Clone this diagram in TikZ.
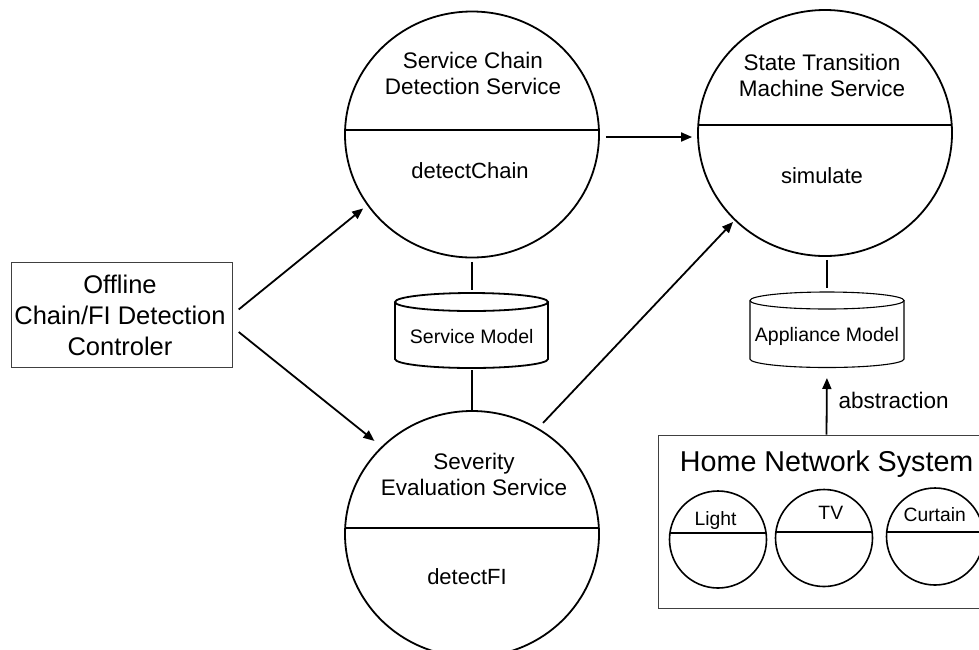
\documentclass[tikz,border=0pt]{standalone}
\usepackage{fontspec}
\setmainfont{Liberation Sans}
\usetikzlibrary{arrows.meta,shapes.geometric,calc}
\begin{document}
\begin{tikzpicture}[x=1pt,y=-1pt,
  svc/.style={ellipse, draw, line width=1.8pt, minimum width=254pt, minimum height=246pt, inner sep=0pt},
  appl/.style={ellipse, draw, line width=1.6pt, minimum width=97pt, minimum height=97pt, inner sep=0pt},
  divider/.style={line width=2.8pt},
  ttl/.style={font=\fontsize{22.5}{26}\selectfont, align=center, inner sep=0pt},
  mth/.style={font=\fontsize{22}{26}\selectfont, inner sep=0pt, anchor=base},
  arr/.style={line width=1.8pt, -{Triangle[length=11pt,width=9pt]}},
  conn/.style={line width=2pt},
  cylthick/.style={line width=1.8pt},
  cylthin/.style={line width=1.1pt},
  cyltext/.style={font=\fontsize{19.5}{22}\selectfont, inner sep=0pt, anchor=base},
  plainbox/.style={draw=black!75, line width=1pt, inner sep=0pt},
  lbl/.style={font=\fontsize{19.3}{21}\selectfont, inner sep=0pt, anchor=base},
]
\useasboundingbox (0,0) rectangle (979,649);
\clip (0,0) rectangle (979,649);

% controller
\node[plainbox, minimum width=221pt, minimum height=105pt] (ctrl) at (121.5,314.5) {};
\node[font=\fontsize{25.5}{31}\selectfont, align=center, inner sep=0pt] (ctrlT) at (120,315.5) {Offline\\Chain/FI Detection\\Controler};

% service circles
\node[svc] (scd) at (472,134.5) {};
\draw[divider] ($(scd.center)+(-126.5,-4.5)$) -- ($(scd.center)+(126.5,-4.5)$);
\node[ttl] (scdT) at (473,73.5) {Service Chain\\Detection Service};
\node[mth] (scdM) at (470,178) {detectChain};

\node[svc] (stm) at (825,133) {};
\draw[divider] ($(stm.center)+(-126.3,-8)$) -- ($(stm.center)+(126.3,-8)$);
\node[ttl] (stmT) at (822,75.6) {State Transition\\Machine Service};
\node[mth] (stmM) at (822,183) {simulate};

\node[svc] (sev) at (472,534) {};
\draw[divider] ($(sev.center)+(-126.4,-6)$) -- ($(sev.center)+(126.4,-6)$);
\node[ttl] (sevT) at (474,474.8) {Severity\\Evaluation Service};
\node[mth] (sevM) at (467,584) {detectFI};

% Service Model cylinder
\coordinate (smtop) at (471.5,293);
\coordinate (smbot) at (471.5,368);
\draw[cylthick] (395,302) -- (395,359) arc[start angle=180,end angle=0,x radius=76.5,y radius=9] -- (548,302);
\draw[cylthick] (471.5,302) ellipse[x radius=76.5,y radius=9];
\node[cyltext] (sm) at (471.7,343.3) {Service Model};

% Appliance Model cylinder
\coordinate (amtop) at (827,292);
\coordinate (ambot) at (827,367);
\draw[cylthin] (750,300.5) -- (750,359) arc[start angle=180,end angle=0,x radius=77,y radius=8.5] -- (904,300.5);
\draw[cylthin] (827,300.5) ellipse[x radius=77,y radius=8.5];
\node[cyltext] (am) at (827,341.7) {Appliance Model};

% Home network system
\node[plainbox, minimum width=337pt, minimum height=173pt] (hn) at (826.5,521.5) {};
\node[font=\fontsize{28.7}{31}\selectfont, inner sep=0pt, anchor=base] (hnT) at (826.7,471.7) {Home Network System};

\node[appl] (light) at (718,539.5) {};
\draw[divider] ($(light.center)+(-48,-6.5)$) -- ($(light.center)+(48,-6.5)$);
\node[lbl] (lightL) at (715.5,525) {Light};

\node[appl] (tv) at (824,538) {};
\draw[divider] ($(tv.center)+(-48.1,-6)$) -- ($(tv.center)+(48.1,-6)$);
\node[lbl] (tvL) at (830.8,519.3) {TV};

\node[appl] (curtain) at (935,536.5) {};
\draw[divider] ($(curtain.center)+(-48.2,-4.5)$) -- ($(curtain.center)+(48.2,-4.5)$);
\node[lbl] (curtainL) at (934.7,521.7) {Curtain};

% connectors
\draw[arr, shorten <=8pt, shorten >=5pt] (ctrl.east) -- (scd.214.6);
\draw[arr, shorten <=8pt, shorten >=9pt] ($(ctrl.east)+(0,12.5)$) -- (sev.136.8);
\draw[arr, shorten <=6pt, shorten >=5pt] ($(scd.east)+(0,2.5)$) -- ($(stm.west)+(0,4)$);
\draw[arr, shorten <=7pt, shorten >=2pt] (sev.58) -- (stm.224);
\draw[conn, shorten <=3.5pt, shorten >=3pt] (scd.south -| smtop) -- (smtop);
\draw[conn, shorten <=2pt] (smbot) -- (sev.north -| smbot);
\draw[conn, shorten <=3pt, shorten >=4pt] (stm.south -| amtop) -- (amtop);
\draw[arr, shorten >=11pt] (hn.north) -- (ambot)
  node[midway, right=11pt, font=\fontsize{22.5}{24}\selectfont, inner sep=0pt] (abs) {abstraction};
\end{tikzpicture}
\end{document}
